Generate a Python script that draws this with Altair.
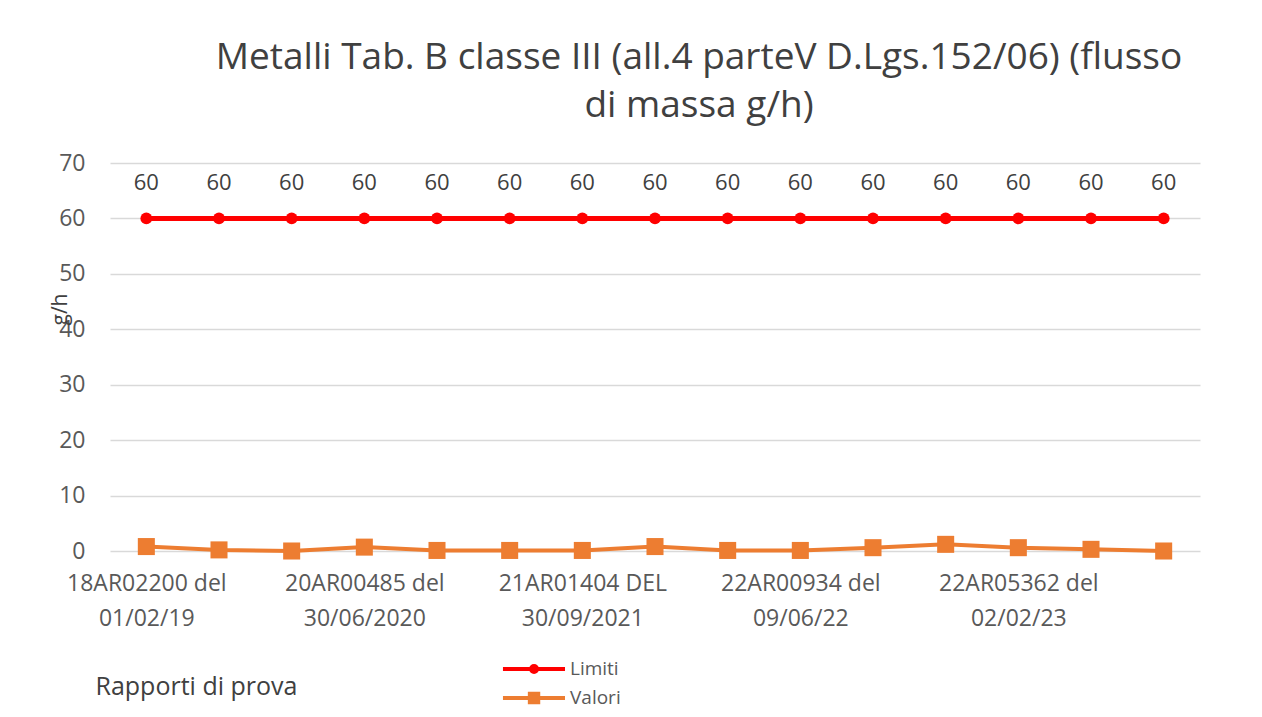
import json
import altair as alt
import pandas as pd

# ---- data ----
report_labels = [
    "18AR02200 del\n01/02/19", "", "",
    "20AR00485 del\n30/06/2020", "", "",
    "21AR01404 DEL\n30/09/2021", "", "",
    "22AR00934 del\n09/06/22", "", "",
    "22AR05362 del\n02/02/23", "", "",
]
limiti = [60] * 15
valori = [0.8, 0.2, 0.0, 0.7, 0.1, 0.1, 0.1, 0.8, 0.1, 0.1, 0.6, 1.2, 0.6, 0.3, 0.0]
series_names = ["Limiti", "Valori"]
series_colors = ["#FF0000", "#ED7D31"]
# legend glyphs: line with a marker in the middle (symbol units)
legend_glyphs = [
    "M-4.17,0H1M-1.83,0a0.25,0.25 0 1,0 0.5,0a0.25,0.25 0 1,0 -0.5,0Z",
    "M-4.17,0H1M-1.93,-0.35H-1.23V0.35H-1.93Z",
]

rows = []
for i in range(len(report_labels)):
    rows.append({"idx": i, "serie": "Limiti", "val": limiti[i]})
    rows.append({"idx": i, "serie": "Valori", "val": valori[i]})
df = pd.DataFrame(rows)

label_arr = json.dumps([l.split("\n") if l else [""] for l in report_labels])
FONT = "Open Sans"

x_enc = alt.X(
    "idx:O",
    scale=alt.Scale(type="point", padding=0.5),
    axis=alt.Axis(
        title="Rapporti di prova",
        labelExpr=f"{label_arr}[datum.value]",
        labelAngle=0,
        labelFontSize=23,
        labelColor="#595959",
        labelFont=FONT,
        labelLineHeight=35,
        labelPadding=21,
        ticks=False,
        domain=False,
        grid=False,
        titleFontSize=25,
        titleFontWeight="normal",
        titleColor="#404040",
        titleFont=FONT,
        titleAnchor="start",
        titleAlign="left",
        titleBaseline="middle",
        titleX=-15,
        titleY=135,
        labelOverlap=False,
    ),
)
y_enc = alt.Y(
    "val:Q",
    scale=alt.Scale(domain=[0, 70], nice=False),
    axis=alt.Axis(
        title="g/h",
        values=[0, 10, 20, 30, 40, 50, 60, 70],
        labelFontSize=23,
        labelColor="#595959",
        labelFont=FONT,
        labelPadding=25,
        ticks=False,
        domain=False,
        gridColor="#D9D9D9",
        gridWidth=1.5,
        titleFontSize=21,
        titleFontWeight="normal",
        titleColor="#404040",
        titleFont=FONT,
        titleX=-40,
        titleY=146,
        titleAngle=-90,
    ),
)

legend_spec = alt.Legend(
    title=None,
    orient="none",
    legendX=429,
    legendY=492,
    symbolSize=576,
    symbolStrokeWidth=4,
    symbolOpacity=1,
    labelFontSize=19,
    labelColor="#595959",
    labelFont=FONT,
    rowPadding=4,
    labelOffset=3,
)
color_scale = alt.Scale(domain=series_names, range=series_colors)
color_enc = alt.Color("serie:N", scale=color_scale, legend=legend_spec)

base = alt.Chart(df)
lim_line = base.transform_filter(alt.datum.serie == "Limiti").mark_line(strokeWidth=5).encode(
    x=x_enc, y=y_enc, color=color_enc)
val_line = base.transform_filter(alt.datum.serie == "Valori").mark_line(strokeWidth=4).encode(
    x=x_enc, y=y_enc, color=color_enc)
lim_pts = base.transform_filter(alt.datum.serie == "Limiti").mark_point(
    shape="circle", filled=True, size=140, opacity=1).encode(x=x_enc, y=y_enc, color=color_enc)
val_pts = base.transform_filter(alt.datum.serie == "Valori").mark_point(
    shape="square", filled=True, size=290, opacity=1).encode(x=x_enc, y=y_enc, color=color_enc)
lim_text = base.transform_filter(alt.datum.serie == "Limiti").mark_text(
    dy=-35, fontSize=22, color="#404040", font=FONT).encode(x=x_enc, y=y_enc, text="val:Q")
# invisible layer that only supplies the legend glyphs (line + marker)
legend_layer = base.mark_point(filled=True, size=576, opacity=0, strokeOpacity=0, fillOpacity=0).encode(
    x=x_enc, y=y_enc,
    color=color_enc,
    stroke=alt.Stroke("serie:N", scale=color_scale, legend=legend_spec),
    shape=alt.Shape("serie:N", scale=alt.Scale(domain=series_names, range=legend_glyphs), legend=legend_spec),
)

chart = alt.layer(lim_line, val_line, lim_pts, val_pts, lim_text, legend_layer).properties(
    width=1090,
    height=388,
    autosize=alt.AutoSizeParams(type="none"),
    padding={"left": 102, "top": 155, "right": 50, "bottom": 162},
    title=alt.TitleParams(
        text=["Metalli Tab. B classe III (all.4 parteV D.Lgs.152/06) (flusso", "di massa g/h)"],
        fontSize=37,
        fontWeight="normal",
        color="#404040",
        font=FONT,
        anchor="middle",
        dx=44,
        offset=27,
        lineHeight=48,
    ),
).configure(background="white", view=alt.ViewConfig(stroke=None))

chart.save("out.html", embed_options={"renderer": "svg", "actions": False})
